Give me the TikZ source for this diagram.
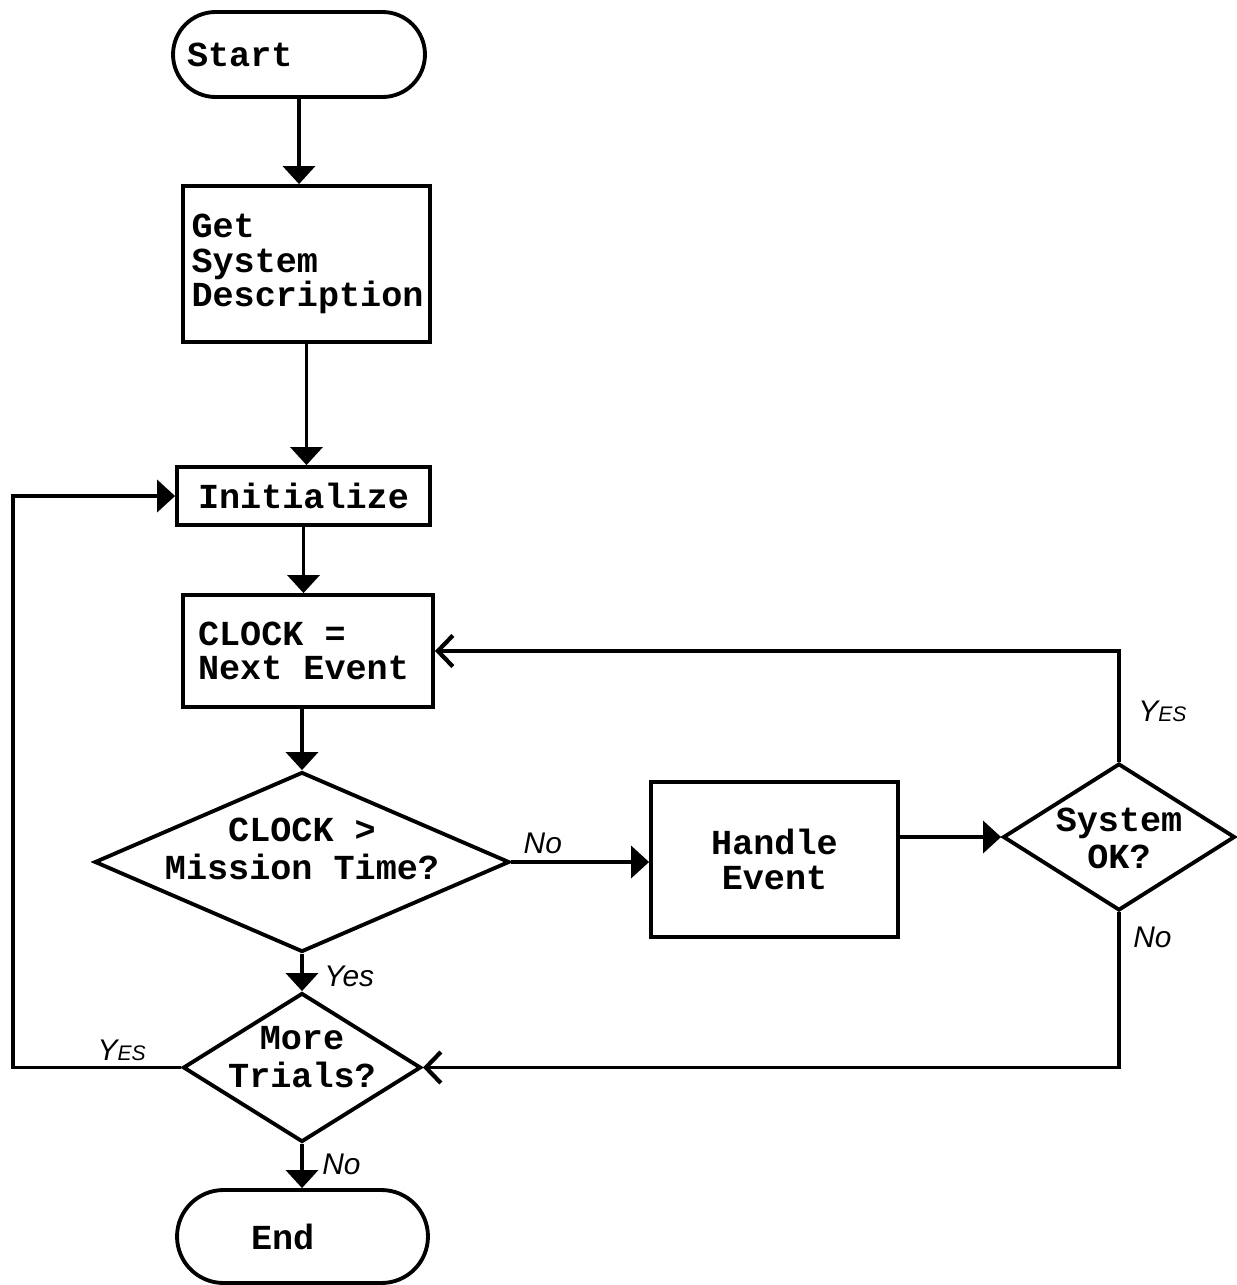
\documentclass[tikz,border=0pt]{standalone}
\usepackage{fontspec}
\newfontfamily\boxfont{Liberation Mono}
\newfontfamily\handfont{Liberation Sans}
\usetikzlibrary{shapes.geometric,arrows.meta,calc}
\newcommand\ztext[1]{\smash{\makebox[0pt]{\begin{tabular}{@{}c@{}}#1\end{tabular}}}}
\newcommand\smES{{\fontsize{12}{12}\selectfont ES}}
\begin{document}
\begin{tikzpicture}[x=0.02cm,y=-0.02cm,
  txt/.style={font=\boxfont\bfseries\fontsize{20}{19.5}\selectfont},
  boxn/.style={txt,draw,line width=2.2pt,rectangle,inner sep=0pt},
  dia/.style={draw,line width=2.2pt,diamond,inner sep=0pt,font=\boxfont\bfseries\fontsize{20}{21.5}\selectfont},
  conn/.style={line width=2pt},
  tri/.style={-{Triangle[length=0.36cm,width=0.64cm]}},
  barb/.style={-{Straight Barb[length=0.3cm,width=0.62cm,line width=2.4pt]}},
  lab/.style={font=\handfont\itshape\fontsize{17}{17}\selectfont,inner sep=0pt},
]
\useasboundingbox (0,0) rectangle (1237,1285);
% nodes
\node[boxn,rounded corners=0.85cm,minimum width=5.04cm,minimum height=1.7cm,text width=4.48cm,align=left] (start) at (299,54.5) {Start};
\node[boxn,minimum width=4.94cm,minimum height=3.12cm,text width=4.6cm,align=left] (get) at (306.5,264) {Get\\System\\Description};
\node[boxn,minimum width=5.06cm,minimum height=1.16cm] (init) at (303.5,496) {Initialize};
\node[boxn,minimum width=5.0cm,minimum height=2.24cm,text width=4.4cm,align=left] (clock) at (308,651) {\spaceskip=0pt CLOCK =\\Next Event};
\node[dia,minimum width=8.3cm,minimum height=3.6cm] (d1) at (302,862) {\ztext{CLOCK >\\Mission Time?}};
\node[boxn,minimum width=4.94cm,minimum height=3.1cm,align=center] (handle) at (774.5,859.5) {Handle\\Event};
\node[dia,minimum width=4.64cm,minimum height=2.94cm] (sok) at (1119,837) {\raisebox{-0.58cm}{\ztext{System\\OK?}}};
\node[dia,minimum width=4.76cm,minimum height=2.98cm] (mt) at (302,1067.5) {\raisebox{-0.1cm}{\ztext{More\\Trials?}}};
\node[boxn,rounded corners=0.93cm,minimum width=5.02cm,minimum height=1.86cm,text width=2.06cm,align=left] (stop) at (302.5,1236.5) {End};
% connectors
\draw[conn,tri] (start.south) -- (start.south |- get.north);
\draw[conn,tri] (get.south) -- (get.south |- init.north);
\draw[conn,tri] (init.south) -- (init.south |- clock.north);
\draw[conn,tri] (d1.north |- clock.south) -- (d1.north);
\draw[conn,tri] (d1.east) -- (d1.east -| handle.west);
\draw[conn,tri] (handle.east |- sok.west) -- (sok.west);
\draw[conn,barb] (sok.north) |- (clock.east);
\draw[conn,barb] (sok.south) |- (mt.east);
\draw[conn,tri] (d1.south) -- (mt.north);
\draw[conn,tri] (mt.west) -- ++(-168,0) |- (init.west);
\draw[conn,tri] (mt.south) -- (mt.south |- stop.north);
% labels
\node[lab,anchor=south west] (lno1) at ($(d1.east)+(12,-8)$) {No};
\node[lab,anchor=west] (lyes1) at ($(d1.south)+(22,22)$) {Yes};
\node[lab,anchor=west] (lyes2) at ($(sok.north)+(19,-50)$) {Y\smES};
\node[lab,anchor=north west] (lno2) at ($(sok.south)+(14,14)$) {No};
\node[lab,anchor=south east] (lyes3) at ($(mt.west)+(-35,-6)$) {Y\smES};
\node[lab,anchor=north west] (lno3) at ($(mt.south)+(20,10)$) {No};
\end{tikzpicture}
\end{document}
